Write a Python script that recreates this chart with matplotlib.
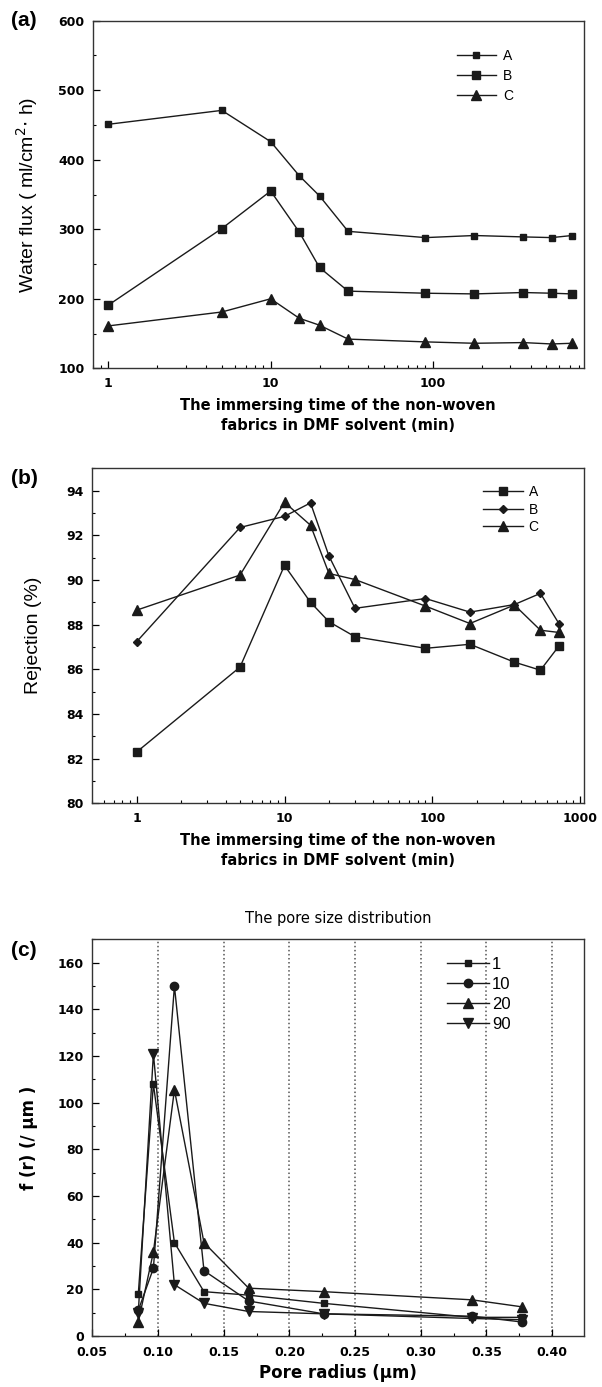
import numpy as np
import matplotlib
matplotlib.use('Agg')
import matplotlib.pyplot as plt
from matplotlib.ticker import FuncFormatter, NullFormatter, MultipleLocator, LogLocator

# immersing time (min), shared by (a) and (b)
t_min = [1, 5, 10, 15, 20, 30, 90, 180, 360, 540, 720]

# (a) water flux, ml/cm2 h
flux_A = [451, 471, 426, 377, 348, 297, 288, 291, 289, 288, 291]
flux_B = [191, 301, 355, 296, 245, 211, 208, 207, 209, 208, 207]
flux_C = [161, 181, 200, 172, 162, 142, 138, 136, 137, 135, 136]

# (b) rejection, %
rej_A = [82.3, 86.1, 90.65, 89.0, 88.13, 87.46, 86.94, 87.12, 86.32, 85.96, 87.04]
rej_B = [87.24, 92.35, 92.85, 93.45, 91.07, 88.73, 89.17, 88.56, 88.9, 89.4, 88.05]
rej_C = [88.65, 90.22, 93.48, 92.45, 90.29, 90.02, 88.83, 88.05, 88.88, 87.75, 87.65]

# (c) pore size distribution
radius = [0.085, 0.0965, 0.1125, 0.135, 0.169, 0.226, 0.339, 0.377]
pore_1 = [18, 108, 40, 19, 17.5, 14, 8, 8]
pore_10 = [11, 29, 150, 28, 15, 9.5, 8.5, 6]
pore_20 = [6, 36, 105.5, 40, 20.5, 19, 15.5, 12.5]
pore_90 = [10, 121, 22, 14, 10.5, 9.5, 7.5, 7]

LC = '#1a1a1a'
W, H = 602, 1387

fig = plt.figure(figsize=(W / 100, H / 100), dpi=100)


def box(left, top, right, bottom):
    return [left / W, 1 - bottom / H, (right - left) / W, (bottom - top) / H]


ax_a = fig.add_axes(box(92.7, 20.7, 583.7, 368.3))
ax_b = fig.add_axes(box(92.3, 468.3, 583.7, 803.3))
ax_c = fig.add_axes(box(92.3, 939.3, 583.7, 1336.0))

tick_font = dict(family='DejaVu Sans', weight='bold', size=9)
xlab_font = dict(family='DejaVu Sans', weight='bold', size=10.5)


def style(ax):
    for s in ax.spines.values():
        s.set_linewidth(1.0)
        s.set_color('#333333')
    ax.tick_params(which='major', direction='in', length=5, width=0.9, pad=6)
    ax.tick_params(which='minor', direction='in', length=2.5, width=0.8)
    for lab in ax.get_xticklabels() + ax.get_yticklabels():
        lab.set_fontproperties(matplotlib.font_manager.FontProperties(**tick_font))


def log_fmt(v, pos):
    return '%d' % v if v >= 1 else ''


xlabel_text = 'The immersing time of the non-woven\nfabrics in DMF solvent (min)'

# ---- (a)
ax_a.plot(t_min, flux_A, '-s', color=LC, lw=1.0, ms=5, label='A')
ax_a.plot(t_min, flux_B, '-s', color=LC, lw=1.0, ms=5.5, label='B')
ax_a.plot(t_min, flux_C, '-^', color=LC, lw=1.0, ms=7, label='C')
ax_a.set_xscale('log')
ax_a.set_xlim(0.8, 850)
ax_a.set_ylim(100, 600)
ax_a.yaxis.set_major_locator(MultipleLocator(100))
ax_a.yaxis.set_minor_locator(MultipleLocator(50))
ax_a.xaxis.set_major_formatter(FuncFormatter(log_fmt))
ax_a.xaxis.set_minor_formatter(NullFormatter())
ax_a.set_ylabel('Water flux ( ml/cm$^{2}$$\\cdot$ h)', family='Liberation Sans', fontsize=14, labelpad=13)
ax_a.set_xlabel(xlabel_text, linespacing=1.45, labelpad=6, **xlab_font)
style(ax_a)
ax_a.legend(loc='upper left', bbox_to_anchor=(0.742, 0.92), frameon=False,
            handlelength=2.8, handletextpad=0.5, labelspacing=0.45, borderpad=0, borderaxespad=0,
            prop={'family': 'Liberation Sans', 'size': 10})

# ---- (b)
ax_b.plot(t_min, rej_A, '-s', color=LC, lw=1.0, ms=5.5, label='A')
ax_b.plot(t_min, rej_B, '-D', color=LC, lw=1.0, ms=4, label='B')
ax_b.plot(t_min, rej_C, '-^', color=LC, lw=1.0, ms=7, label='C')
ax_b.set_xscale('log')
ax_b.set_xlim(0.5, 1060)
ax_b.set_ylim(80, 95)
ax_b.xaxis.set_major_locator(LogLocator(base=10, numticks=10))
ax_b.yaxis.set_major_locator(MultipleLocator(2))
ax_b.yaxis.set_minor_locator(MultipleLocator(1))
ax_b.xaxis.set_major_formatter(FuncFormatter(log_fmt))
ax_b.xaxis.set_minor_formatter(NullFormatter())
ax_b.set_ylabel('Rejection (%)', family='Liberation Sans', fontsize=14, labelpad=18)
ax_b.set_xlabel(xlabel_text, linespacing=1.45, labelpad=6, **xlab_font)
style(ax_b)
ax_b.legend(loc='upper left', bbox_to_anchor=(0.7945, 0.95), frameon=False,
            handlelength=2.9, handletextpad=0.4, labelspacing=0.25, borderpad=0, borderaxespad=0,
            prop={'family': 'Liberation Sans', 'size': 10})

# ---- (c)
ax_c.plot(radius, pore_1, '-s', color=LC, lw=1.0, ms=5, label='1')
ax_c.plot(radius, pore_10, '-o', color=LC, lw=1.0, ms=6, label='10')
ax_c.plot(radius, pore_20, '-^', color=LC, lw=1.0, ms=7, label='20')
ax_c.plot(radius, pore_90, '-v', color=LC, lw=1.0, ms=7, label='90')
ax_c.set_xlim(0.05, 0.424)
ax_c.set_ylim(0, 170)
ax_c.xaxis.set_major_locator(MultipleLocator(0.05))
ax_c.xaxis.set_minor_locator(MultipleLocator(0.025))
ax_c.yaxis.set_major_locator(MultipleLocator(20))
ax_c.yaxis.set_minor_locator(MultipleLocator(10))
ax_c.xaxis.set_major_formatter(FuncFormatter(lambda v, p: '%.2f' % v))
ax_c.grid(axis='x', which='major', linestyle=':', color='#555555', linewidth=1.1)
ax_c.set_axisbelow(True)
ax_c.set_ylabel('f (r) (/ μm )', family='DejaVu Sans', weight='bold', fontsize=12, labelpad=14)
ax_c.set_xlabel('Pore radius (μm)', family='DejaVu Sans', weight='bold', fontsize=12, labelpad=4)
ax_c.set_title('The pore size distribution', family='DejaVu Sans', fontsize=10.5, pad=12)
style(ax_c)
ax_c.tick_params(axis='x', which='major', pad=7)
ax_c.legend(loc='upper left', bbox_to_anchor=(0.722, 0.955), frameon=False,
            handlelength=2.5, handletextpad=0.2, labelspacing=0.3, borderpad=0, borderaxespad=0,
            prop={'family': 'Liberation Sans', 'size': 12})

# panel letters
for lab, y in (('(a)', 21), ('(b)', 479), ('(c)', 950)):
    fig.text(24 / W, 1 - y / H, lab, ha='center', va='center', fontsize=15,
             family='Liberation Sans', weight='bold')

fig.savefig('out.png', dpi=100)
